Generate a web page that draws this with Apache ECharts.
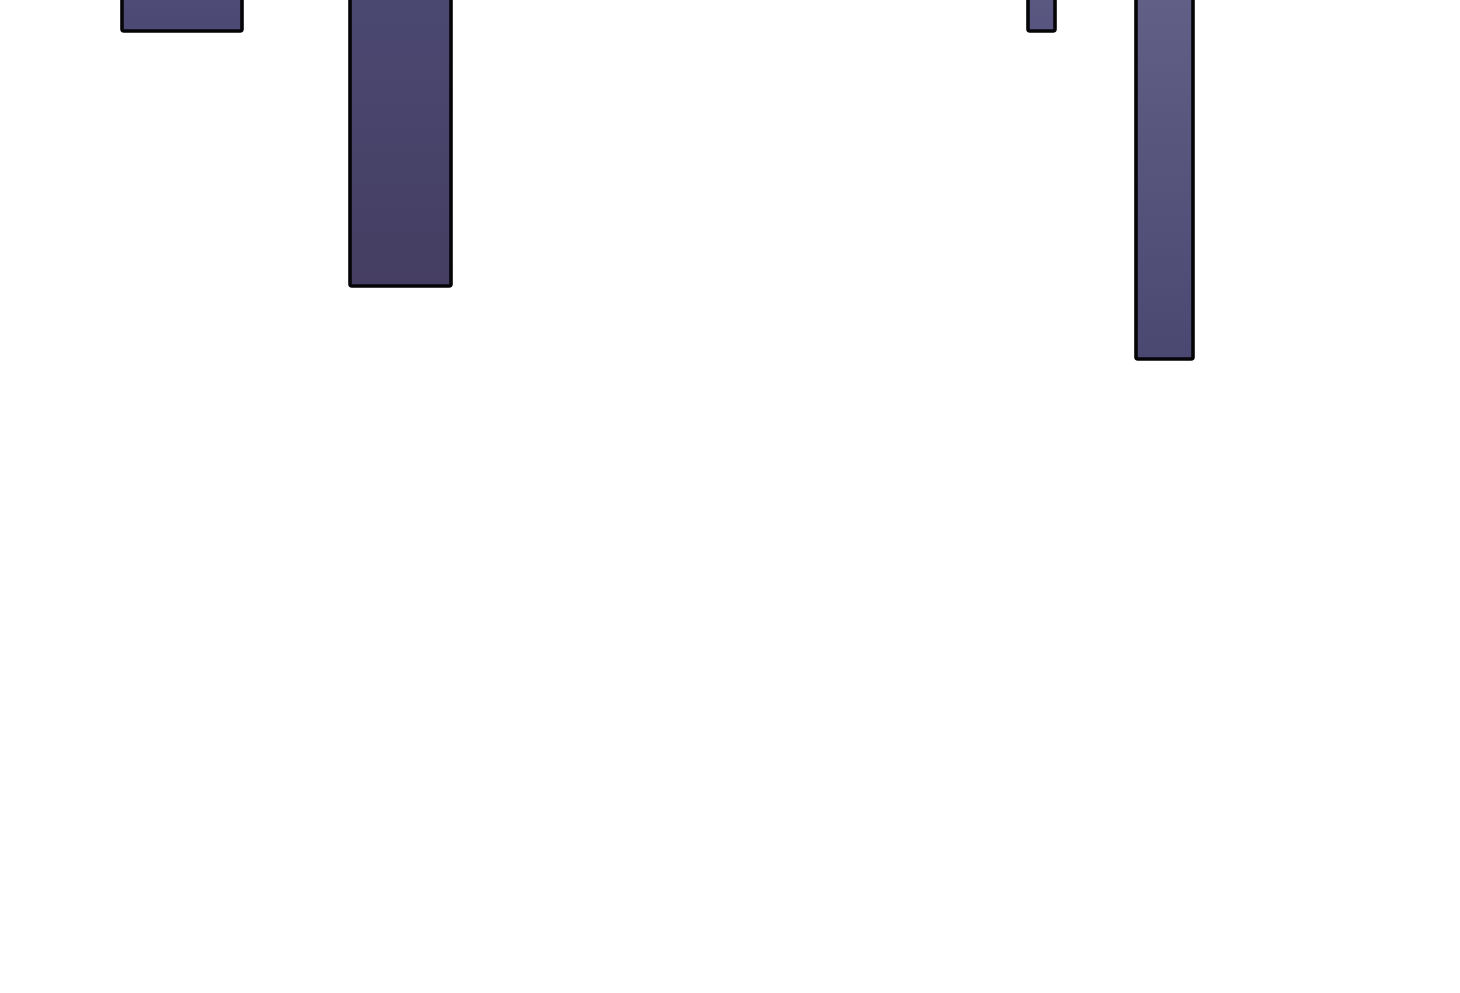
<!DOCTYPE html>
<html>
<head>
<meta charset="utf-8">
<style>
  html, body { margin: 0; padding: 0; background: #ffffff; }
  #chart { width: 1460px; height: 993px; }
</style>
<script src="https://cdn.jsdelivr.net/npm/echarts@6/dist/echarts.min.js"></script>
</head>
<body>
<div id="chart"></div>
<script>
// bar extents along x (data units) and hanging depth (data units)
const barStart = [12.2, 35.0, 102.8, 113.6];
const barEnd   = [24.2, 45.1, 105.5, 119.3];
const barDepth = [3.1, 28.6, 3.1, 35.9];
const topColors    = ['#4f4c78', '#4b4872', '#5b5881', '#636087'];
const bottomColors = ['#4c4874', '#453e62', '#575480', '#4a4771'];

const chartData = barStart.map((s, i) => [s, barEnd[i], barDepth[i], i]);

let myChart = echarts.init(document.getElementById('chart'));
let option = {
  animation: false,
  backgroundColor: '#ffffff',
  grid: { left: 0, right: 0, top: 0, bottom: 0 },
  xAxis: { type: 'value', min: 0, max: 146, show: false },
  yAxis: { type: 'value', min: 0, max: 99.3, inverse: true, show: false },
  series: [{
    type: 'custom',
    clip: false,
    data: chartData,
    renderItem: function (params, api) {
      const p0 = api.coord([api.value(0), 0]);
      const p1 = api.coord([api.value(1), api.value(2)]);
      const i = api.value(3);
      return {
        type: 'rect',
        shape: { x: p0[0], y: p0[1] - 8, width: p1[0] - p0[0], height: p1[1] - p0[1] + 8, r: 2 },
        style: {
          fill: new echarts.graphic.LinearGradient(0, 0, 0, 1, [
            { offset: 0, color: topColors[i] },
            { offset: 1, color: bottomColors[i] }
          ]),
          stroke: '#050508',
          lineWidth: 3.6
        }
      };
    }
  }]
};
myChart.setOption(option);
</script>
</body>
</html>
